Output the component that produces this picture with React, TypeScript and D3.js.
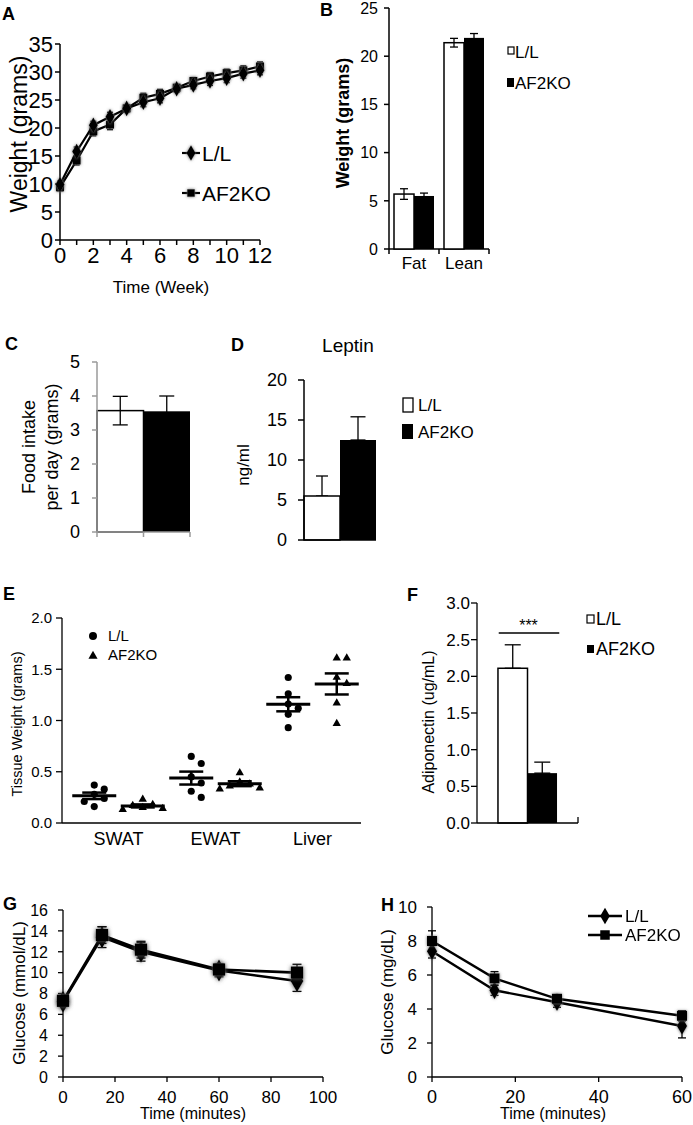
import React from 'react';
import * as d3 from 'd3';

const FONT = "'Liberation Sans', Arial, Helvetica, sans-serif";

// ---------- Panel A: body weight ----------
const weeks = [0, 1, 2, 3, 4, 5, 6, 7, 8, 9, 10, 11, 12];
const weightLL = [9.9, 15.8, 20.5, 22.0, 23.5, 24.6, 25.3, 27.0, 27.7, 28.4, 28.9, 29.7, 30.3];
const weightLLErr = [0.6, 0.8, 0.7, 0.8, 0.6, 0.8, 0.8, 0.6, 0.7, 0.8, 0.8, 0.8, 0.8];
const weightKO = [9.4, 14.2, 19.4, 20.6, 23.5, 25.4, 26.1, 27.2, 28.4, 29.2, 29.8, 30.3, 31.0];
const weightKOErr = [0.6, 0.8, 0.8, 0.9, 0.6, 0.8, 0.8, 0.6, 0.6, 0.7, 0.7, 0.8, 0.8];
const aTicksY = [0, 5, 10, 15, 20, 25, 30, 35];
const aTicksX = [0, 2, 4, 6, 8, 10, 12];

// ---------- Panel B: body composition ----------
const compCats = ['Fat', 'Lean'];
const compLL = [5.7, 21.4];
const compLLErr = [0.55, 0.45];
const compKO = [5.5, 21.9];
const compKOErr = [0.3, 0.45];
const bTicksY = [0, 5, 10, 15, 20, 25];

// ---------- Panel C: food intake ----------
const groups = ['L/L', 'AF2KO'];
const foodMean = [3.57, 3.55];
const foodErr = [0.42, 0.45];
const cTicksY = [0, 1, 2, 3, 4, 5];

// ---------- Panel D: leptin ----------
const leptinMean = [5.5, 12.5];
const leptinErr = [2.5, 2.9];
const dTicksY = [0, 5, 10, 15, 20];

// ---------- Panel E: tissue weight ----------
const tissueCats = ['SWAT', 'EWAT', 'Liver'];
const tissueLL = [
  [0.37, 0.33, 0.28, 0.24, 0.21, 0.16],
  [0.65, 0.58, 0.45, 0.39, 0.31, 0.25],
  [1.42, 1.26, 1.16, 1.12, 1.06, 0.93],
];
const tissueKO = [
  [0.23, 0.18, 0.17, 0.15, 0.14, 0.13],
  [0.49, 0.40, 0.38, 0.36, 0.34, 0.33],
  [1.61, 1.61, 1.42, 1.36, 1.17, 0.97],
];
const eTicksY = [0, 0.5, 1.0, 1.5, 2.0];

// ---------- Panel F: adiponectin ----------
const adipoMean = [2.11, 0.68];
const adipoErr = [0.32, 0.15];
const fTicksY = [0, 0.5, 1.0, 1.5, 2.0, 2.5, 3.0];

// ---------- Panel G: GTT ----------
const gttTime = [0, 15, 30, 60, 90];
const gttLL = [7.2, 13.4, 12.0, 10.2, 9.2];
const gttLLErr = [0.4, 1.0, 0.9, 0.6, 1.0];
const gttKO = [7.3, 13.6, 12.2, 10.3, 10.0];
const gttKOErr = [0.4, 0.8, 0.8, 0.5, 0.8];
const gTicksY = [0, 2, 4, 6, 8, 10, 12, 14, 16];
const gTicksX = [0, 20, 40, 60, 80, 100];

// ---------- Panel H: ITT ----------
const ittTime = [0, 15, 30, 60];
const ittLL = [7.4, 5.1, 4.4, 3.0];
const ittLLErr = [0.4, 0.3, 0.3, 0.7];
const ittKO = [8.0, 5.8, 4.6, 3.6];
const ittKOErr = [0.6, 0.4, 0.2, 0.3];
const hTicksY = [0, 2, 4, 6, 8, 10];
const hTicksX = [0, 20, 40, 60];

const sym = (type: any, size: number) => d3.symbol().type(type).size(size)() as string;

function YAxis({ y, x, ticks, fmt = (t: number) => String(t), len = 5, lx, fs, color = '#000', sw = 1.3 }: any) {
  const [d0, d1] = y.domain();
  return (
    <g>
      <line x1={x} x2={x} y1={y(d0)} y2={y(d1)} stroke={color} strokeWidth={sw} />
      {ticks.map((t: number) => (
        <g key={t}>
          <line x1={x - len} x2={x} y1={y(t)} y2={y(t)} stroke={color} strokeWidth={sw} />
          <text x={lx} y={y(t)} dy="0.36em" textAnchor="end" fontSize={fs}>{fmt(t)}</text>
        </g>
      ))}
    </g>
  );
}

function XAxisLin({ x, y, ticks, minor, len = 5, ly, fs, sw = 1.3 }: any) {
  const [d0, d1] = x.domain();
  return (
    <g>
      <line x1={x(d0)} x2={x(d1)} y1={y} y2={y} stroke="#000" strokeWidth={sw} />
      {(minor || ticks).map((t: number) => (
        <line key={'m' + t} x1={x(t)} x2={x(t)} y1={y} y2={y + len} stroke="#000" strokeWidth={sw} />
      ))}
      {ticks.map((t: number) => (
        <text key={t} x={x(t)} y={ly} textAnchor="middle" fontSize={fs}>{t}</text>
      ))}
    </g>
  );
}

function RotLabel({ cx, cy, fs, children, bold }: any) {
  return (
    <text transform={`translate(${cx},${cy}) rotate(-90)`} textAnchor="middle" dy="0.35em" fontSize={fs} fontWeight={bold ? 'bold' : 'normal'}>
      {children}
    </text>
  );
}

function ErrBar({ x, y0, y1, w, sw = 1.3, color = '#000' }: any) {
  return (
    <g stroke={color} strokeWidth={sw}>
      <line x1={x} x2={x} y1={y0} y2={y1} />
      <line x1={x - w / 2} x2={x + w / 2} y1={y0} y2={y0} />
      <line x1={x - w / 2} x2={x + w / 2} y1={y1} y2={y1} />
    </g>
  );
}

function Letter({ x, y, t }: any) {
  return <text x={x} y={y} fontSize={18} fontWeight="bold">{t}</text>;
}

function LineSeries({ x, y, xs, vals, errs, symType, symSize, cap, lw, filter }: any) {
  const line = d3.line<number>().x((_, i) => x(xs[i])).y((v) => y(v));
  return (
    <g>
      <path d={line(vals) as string} fill="none" stroke="#000" strokeWidth={lw} />
      {vals.map((v: number, i: number) => (
        <ErrBar key={i} x={x(xs[i])} y0={y(v - errs[i])} y1={y(v + errs[i])} w={cap} />
      ))}
      <g filter={filter}>
        {vals.map((v: number, i: number) => (
          <path key={i} d={sym(symType, symSize)} transform={`translate(${x(xs[i])},${y(v)})`} fill="#000" />
        ))}
      </g>
    </g>
  );
}

function PanelA() {
  const x = d3.scaleLinear().domain([0, 12]).range([60, 260]);
  const y = d3.scaleLinear().domain([0, 35]).range([240, 44]);
  return (
    <g>
      <Letter x={2} y={20} t="A" />
      <YAxis y={y} x={60} ticks={aTicksY} lx={53} fs={22} len={5} sw={1.5} />
      <XAxisLin x={x} y={240} ticks={aTicksX} minor={weeks} ly={263} fs={22} len={5} sw={1.5} />
      <RotLabel cx={19} cy={134} fs={23}>Weight (grams)</RotLabel>
      <text x={161} y={293} textAnchor="middle" fontSize={17}>Time (Week)</text>
      <LineSeries x={x} y={y} xs={weeks} vals={weightKO} errs={weightKOErr} symType={d3.symbolSquare} symSize={64} cap={6} lw={2.2} filter="url(#glow)" />
      <LineSeries x={x} y={y} xs={weeks} vals={weightLL} errs={weightLLErr} symType={d3.symbolDiamond} symSize={70} cap={6} lw={2.2} filter="url(#glow)" />
      {/* legend */}
      <line x1={182} x2={200} y1={153} y2={153} stroke="#000" strokeWidth={2.2} />
      <path d={sym(d3.symbolDiamond, 70)} transform="translate(191,153)" filter="url(#glow)" />
      <text x={202} y={153} dy="0.36em" fontSize={21}>L/L</text>
      <line x1={182} x2={200} y1={193} y2={193} stroke="#000" strokeWidth={2.2} />
      <path d={sym(d3.symbolSquare, 56)} transform="translate(191,193)" filter="url(#glow)" />
      <text x={202} y={193} dy="0.36em" fontSize={21}>AF2KO</text>
    </g>
  );
}

function PanelB() {
  const x0 = d3.scaleBand().domain(compCats).range([389, 489]).paddingInner(0.2).paddingOuter(0.1);
  const x1 = d3.scaleBand().domain(groups).range([0, x0.bandwidth()]);
  const y = d3.scaleLinear().domain([0, 25]).range([249, 8]);
  return (
    <g>
      <Letter x={320} y={16} t="B" />
      <YAxis y={y} x={389} ticks={bTicksY} lx={378} fs={16} len={5} sw={1.5} />
      <line x1={389} x2={489} y1={249} y2={249} stroke="#000" strokeWidth={1.5} />
      {[389, 439, 489].map((t) => (
        <line key={t} x1={t} x2={t} y1={249} y2={254} stroke="#000" strokeWidth={1.5} />
      ))}
      <RotLabel cx={343} cy={123} fs={18} bold>Weight (grams)</RotLabel>
      {compCats.map((c, i) => {
        const bx = x0(c) as number;
        const w = x1.bandwidth();
        const xl = bx + (x1('L/L') as number);
        const xk = bx + (x1('AF2KO') as number);
        return (
          <g key={c}>
            <rect x={xl} y={y(compLL[i])} width={w} height={249 - y(compLL[i])} fill="#fff" stroke="#000" strokeWidth={1.5} />
            <rect x={xk} y={y(compKO[i])} width={w} height={249 - y(compKO[i])} fill="#000" />
            <ErrBar x={xl + w / 2} y0={y(compLL[i] - compLLErr[i])} y1={y(compLL[i] + compLLErr[i])} w={8} />
            <ErrBar x={xk + w / 2} y0={y(compKO[i] - compKOErr[i])} y1={y(compKO[i] + compKOErr[i])} w={8} />
            <text x={bx + x0.bandwidth() / 2} y={269} textAnchor="middle" fontSize={17}>{c}</text>
          </g>
        );
      })}
      <rect x={508} y={47} width={6} height={7} fill="#fff" stroke="#000" strokeWidth={1.2} />
      <text x={515} y={52} dy="0.36em" fontSize={17}>L/L</text>
      <rect x={507} y={78} width={7} height={9} fill="#000" />
      <text x={515} y={83} dy="0.36em" fontSize={17}>AF2KO</text>
    </g>
  );
}

function PanelC() {
  const x = d3.scaleBand().domain(groups).range([97, 190]);
  const y = d3.scaleLinear().domain([0, 5]).range([532, 362]);
  const w = x.bandwidth();
  const gray = '#9a9a9a';
  return (
    <g>
      <Letter x={5} y={350} t="C" />
      <rect x={x('L/L')} y={y(foodMean[0])} width={w} height={532 - y(foodMean[0])} fill="#fff" stroke="#000" strokeWidth={1.5} />
      <rect x={x('AF2KO')} y={y(foodMean[1])} width={w} height={532 - y(foodMean[1])} fill="#000" />
      <ErrBar x={(x('L/L') as number) + w / 2} y0={y(foodMean[0] - foodErr[0])} y1={y(foodMean[0] + foodErr[0])} w={15} />
      <ErrBar x={(x('AF2KO') as number) + w / 2} y0={y(foodMean[1] - foodErr[1])} y1={y(foodMean[1] + foodErr[1])} w={15} />
      <YAxis y={y} x={97} ticks={cTicksY} lx={80} fs={18} len={5} color={gray} sw={1.5} />
      <line x1={97} x2={190} y1={532} y2={532} stroke={gray} strokeWidth={1.5} />
      {[97, 143.5, 190].map((t) => (
        <line key={t} x1={t} x2={t} y1={532} y2={537} stroke={gray} strokeWidth={1.5} />
      ))}
      <RotLabel cx={29} cy={447} fs={18}>Food intake</RotLabel>
      <RotLabel cx={52} cy={447} fs={18}>per day (grams)</RotLabel>
    </g>
  );
}

function PanelD() {
  const x = d3.scaleBand().domain(groups).range([304, 376]);
  const y = d3.scaleLinear().domain([0, 20]).range([540, 380]);
  const w = x.bandwidth();
  return (
    <g>
      <Letter x={231} y={351} t="D" />
      <text x={348} y={352} textAnchor="middle" fontSize={19}>Leptin</text>
      <ErrBar x={(x('L/L') as number) + w / 2} y0={y(leptinMean[0])} y1={y(leptinMean[0] + leptinErr[0])} w={12} />
      <ErrBar x={(x('AF2KO') as number) + w / 2} y0={y(leptinMean[1])} y1={y(leptinMean[1] + leptinErr[1])} w={15} />
      <rect x={x('L/L')} y={y(leptinMean[0])} width={w} height={540 - y(leptinMean[0])} fill="#fff" stroke="#000" strokeWidth={1.5} />
      <rect x={x('AF2KO')} y={y(leptinMean[1])} width={w} height={540 - y(leptinMean[1])} fill="#000" />
      <YAxis y={y} x={304} ticks={dTicksY} lx={287} fs={18} len={6} sw={1.5} />
      <line x1={304} x2={376} y1={540} y2={540} stroke="#000" strokeWidth={1.5} />
      <RotLabel cx={243} cy={465} fs={17}>ng/ml</RotLabel>
      <rect x={403} y={398} width={10} height={14} fill="#fff" stroke="#000" strokeWidth={1.3} />
      <text x={418} y={405} dy="0.36em" fontSize={17}>L/L</text>
      <rect x={402} y={424} width={11} height={15} fill="#000" />
      <text x={418} y={432} dy="0.36em" fontSize={17}>AF2KO</text>
    </g>
  );
}

function dodge(vals: number[], y: any, step: number, minDist: number) {
  const order = vals.map((v, i) => i).sort((a, b) => vals[b] - vals[a]);
  const placed: { x: number; y: number }[] = [];
  const res: number[] = new Array(vals.length).fill(0);
  const cands = [0, step, -step, 2 * step, -2 * step];
  order.forEach((i) => {
    const py = y(vals[i]);
    for (const c of cands) {
      if (placed.every((p) => Math.hypot(p.x - c, p.y - py) >= minDist)) {
        res[i] = c;
        placed.push({ x: c, y: py });
        return;
      }
    }
    res[i] = 0;
    placed.push({ x: 0, y: py });
  });
  return res;
}

function PanelE() {
  const y = d3.scaleLinear().domain([0, 2]).range([823, 618]);
  const x0 = d3.scaleBand().domain(tissueCats).range([70, 361]);
  const x1 = d3.scaleBand().domain(groups).range([0, x0.bandwidth()]);
  const series = [
    { key: 'L/L', data: tissueLL, type: d3.symbolCircle, size: 40 },
    { key: 'AF2KO', data: tissueKO, type: d3.symbolTriangle, size: 30 },
  ];
  return (
    <g>
      <Letter x={3} y={600} t="E" />
      <YAxis y={y} x={62} ticks={eTicksY} fmt={(t: number) => t.toFixed(1)} lx={52} fs={15} len={6} sw={1.3} />
      <line x1={62} x2={361} y1={823} y2={823} stroke="#000" strokeWidth={1.3} />
      <RotLabel cx={17} cy={724} fs={14.5}>Tissue Weight (grams)</RotLabel>
      {tissueCats.map((c, ci) => (
        <g key={c}>
          <text x={(x0(c) as number) + x0.bandwidth() / 2} y={845} textAnchor="middle" fontSize={18}>{c}</text>
          {series.map((s) => {
            const cx = (x0(c) as number) + (x1(s.key) as number) + x1.bandwidth() / 2;
            const vals = s.data[ci];
            const m = d3.mean(vals) as number;
            const sem = (d3.deviation(vals) as number) / Math.sqrt(vals.length);
            const offs = dodge(vals, y, 10, 8);
            return (
              <g key={s.key}>
                {vals.map((v, i) => (
                  <path key={i} d={sym(s.type, s.size)} transform={`translate(${cx + offs[i]},${y(v)})`} fill="#000" />
                ))}
                <line x1={cx - 22} x2={cx + 22} y1={y(m)} y2={y(m)} stroke="#000" strokeWidth={3} />
                <ErrBar x={cx} y0={y(m - sem)} y1={y(m + sem)} w={24} sw={2.5} />
              </g>
            );
          })}
        </g>
      ))}
      <path d={sym(d3.symbolCircle, 50)} transform="translate(93,636)" />
      <text x={108} y={636} dy="0.36em" fontSize={15}>L/L</text>
      <path d={sym(d3.symbolTriangle, 36)} transform="translate(93,656)" />
      <text x={108} y={655} dy="0.36em" fontSize={15}>AF2KO</text>
    </g>
  );
}

function PanelF() {
  const x = d3.scaleBand().domain(groups).range([477, 578]).paddingInner(0).paddingOuter(0.71);
  const y = d3.scaleLinear().domain([0, 3]).range([823, 603]);
  const w = x.bandwidth();
  const cl = (x('L/L') as number) + w / 2;
  const ck = (x('AF2KO') as number) + w / 2;
  return (
    <g>
      <Letter x={407} y={601} t="F" />
      <ErrBar x={cl} y0={y(adipoMean[0])} y1={y(adipoMean[0] + adipoErr[0])} w={16} />
      <ErrBar x={ck} y0={y(adipoMean[1])} y1={y(adipoMean[1] + adipoErr[1])} w={16} />
      <rect x={x('L/L')} y={y(adipoMean[0])} width={w} height={823 - y(adipoMean[0])} fill="#fff" stroke="#000" strokeWidth={1.5} />
      <rect x={x('AF2KO')} y={y(adipoMean[1])} width={w} height={823 - y(adipoMean[1])} fill="#000" />
      <YAxis y={y} x={477} ticks={fTicksY} fmt={(t: number) => t.toFixed(1)} lx={470} fs={17} len={6} sw={1.3} />
      <line x1={477} x2={578} y1={823} y2={823} stroke="#000" strokeWidth={1.3} />
      <line x1={578} x2={578} y1={823} y2={817} stroke="#000" strokeWidth={1.3} />
      <line x1={cl - 14} x2={ck + 17} y1={633} y2={633} stroke="#000" strokeWidth={1.3} />
      <text x={(cl + ck) / 2 + 1} y={631} textAnchor="middle" fontSize={16}>***</text>
      <RotLabel cx={428} cy={722} fs={16}>Adiponectin (ug/mL)</RotLabel>
      <rect x={587} y={615} width={7} height={8} fill="#fff" stroke="#000" strokeWidth={1.2} />
      <text x={596} y={619} dy="0.36em" fontSize={18}>L/L</text>
      <rect x={587} y={645} width={7} height={8} fill="#000" />
      <text x={596} y={649} dy="0.36em" fontSize={18}>AF2KO</text>
    </g>
  );
}

function PanelG() {
  const x = d3.scaleLinear().domain([0, 100]).range([63, 323]);
  const y = d3.scaleLinear().domain([0, 16]).range([1077, 910]);
  return (
    <g>
      <Letter x={3} y={910} t="G" />
      <YAxis y={y} x={63} ticks={gTicksY} lx={48} fs={16} len={5} sw={1.3} />
      <XAxisLin x={x} y={1077} ticks={gTicksX} ly={1103} fs={17} len={5} sw={1.3} />
      <RotLabel cx={19} cy={993} fs={17}>Glucose (mmol/dL)</RotLabel>
      <text x={193} y={1119} textAnchor="middle" fontSize={16}>Time (minutes)</text>
      <LineSeries x={x} y={y} xs={gttTime} vals={gttLL} errs={gttLLErr} symType={d3.symbolDiamond} symSize={140} cap={9} lw={2.6} filter="url(#glow2)" />
      <LineSeries x={x} y={y} xs={gttTime} vals={gttKO} errs={gttKOErr} symType={d3.symbolSquare} symSize={150} cap={9} lw={2.6} filter="url(#glow2)" />
    </g>
  );
}

function PanelH() {
  const x = d3.scaleLinear().domain([0, 60]).range([432, 682]);
  const y = d3.scaleLinear().domain([0, 10]).range([1077, 907]);
  return (
    <g>
      <Letter x={381} y={911} t="H" />
      <YAxis y={y} x={432} ticks={hTicksY} lx={417} fs={17} len={5} sw={1.3} />
      <XAxisLin x={x} y={1077} ticks={hTicksX} ly={1103} fs={18} len={5} sw={1.3} />
      <RotLabel cx={387} cy={992} fs={17}>Glucose (mg/dL)</RotLabel>
      <text x={553} y={1119} textAnchor="middle" fontSize={16}>Time (minutes)</text>
      <LineSeries x={x} y={y} xs={ittTime} vals={ittLL} errs={ittLLErr} symType={d3.symbolDiamond} symSize={90} cap={8} lw={2.4} filter="url(#glow)" />
      <LineSeries x={x} y={y} xs={ittTime} vals={ittKO} errs={ittKOErr} symType={d3.symbolSquare} symSize={100} cap={8} lw={2.4} filter="url(#glow)" />
      <line x1={588} x2={622} y1={916} y2={916} stroke="#000" strokeWidth={2.4} />
      <path d={sym(d3.symbolDiamond, 80)} transform="translate(605,916)" />
      <text x={625} y={916} dy="0.36em" fontSize={17}>L/L</text>
      <line x1={588} x2={622} y1={935} y2={935} stroke="#000" strokeWidth={2.4} />
      <path d={sym(d3.symbolSquare, 90)} transform="translate(605,935)" />
      <text x={625} y={935} dy="0.36em" fontSize={17}>AF2KO</text>
    </g>
  );
}

export default function App() {
  return (
    <div style={{ position: 'absolute', left: 0, top: 0 }}>
      <svg width={693} height={1125} style={{ display: 'block', background: '#fff' }} fontFamily={FONT}>
        <defs>
          <filter id="glow" x="-60%" y="-60%" width="220%" height="220%">
            <feGaussianBlur in="SourceAlpha" stdDeviation="1.4" result="b" />
            <feFlood floodColor="#666" />
            <feComposite in2="b" operator="in" result="s" />
            <feMerge>
              <feMergeNode in="s" />
              <feMergeNode in="SourceGraphic" />
            </feMerge>
          </filter>
          <filter id="glow2" x="-60%" y="-60%" width="220%" height="220%">
            <feGaussianBlur in="SourceAlpha" stdDeviation="2" result="b" />
            <feFlood floodColor="#555" />
            <feComposite in2="b" operator="in" result="s" />
            <feMerge>
              <feMergeNode in="s" />
              <feMergeNode in="SourceGraphic" />
            </feMerge>
          </filter>
        </defs>
        <rect width={693} height={1125} fill="#fff" />
        <PanelA />
        <PanelB />
        <PanelC />
        <PanelD />
        <PanelE />
        <PanelF />
        <PanelG />
        <PanelH />
      </svg>
    </div>
  );
}
